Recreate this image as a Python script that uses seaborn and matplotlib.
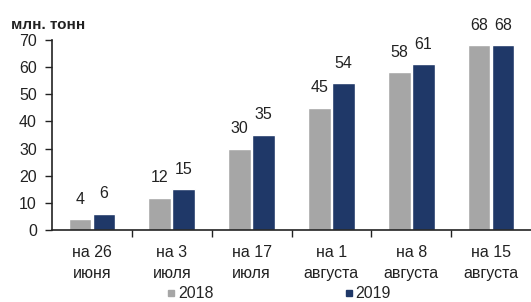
import pandas as pd
import seaborn as sns
import matplotlib.pyplot as plt
from matplotlib.lines import Line2D

# данные с графика
даты = ['на 26\nиюня', 'на 3\nиюля', 'на 17\nиюля', 'на 1\nавгуста', 'на 8\nавгуста', 'на 15\nавгуста']
урожай_2018 = [4, 12, 30, 45, 58, 68]
урожай_2019 = [6, 15, 35, 54, 61, 68]
годы = ['2018', '2019']
цвета = ['#A6A6A6', '#1F3868']

dados = pd.DataFrame({
    'дата': даты * 2,
    'год': [годы[0]] * len(даты) + [годы[1]] * len(даты),
    'значение': урожай_2018 + урожай_2019,
})

sns.set_style('ticks')
plt.rcParams['font.family'] = ['Liberation Sans', 'DejaVu Sans']

fig = plt.figure(figsize=(5.31, 3.02), dpi=100)
ax = fig.add_axes([0.098, 0.238, 0.902, 0.63])

sns.barplot(data=dados, x='дата', y='значение', hue='год', palette=цвета,
            width=0.6, gap=0.05, ax=ax, legend=False, saturation=1)

for cont in ax.containers:
    ax.bar_label(cont, fmt='%d', padding=9, fontsize=11.5, color='#222222')

ax.set_ylim(0, 70)
ax.set_yticks(range(0, 71, 10))
ax.set_xlim(-0.5, len(даты) - 0.5)
ax.set_xlabel('')
ax.set_ylabel('')
ax.tick_params(axis='y', labelsize=11.5, length=5, width=1, pad=6, colors='#222222')
ax.tick_params(axis='x', which='major', length=0, labelsize=11.5, pad=11, colors='#222222')
for lbl in ax.get_xticklabels():
    lbl.set_linespacing(1.5)
# засечки между категориями
ax.set_xticks([i + 0.5 for i in range(len(даты) - 1)], minor=True)
ax.tick_params(axis='x', which='minor', length=5, width=1, color='#222222')
for s in ['top', 'right']:
    ax.spines[s].set_visible(False)
for s in ['left', 'bottom']:
    ax.spines[s].set_color('#222222')
    ax.spines[s].set_linewidth(1.2)

fig.text(0.02, 0.905, 'млн. тонн', fontsize=11, fontweight='bold', color='#222222')

handles = [Line2D([], [], marker='s', linestyle='', color=c, markersize=4) for c in цвета]
fig.legend(handles, годы, loc='lower center', bbox_to_anchor=(0.525, -0.045), ncol=2,
           frameon=False, fontsize=11.5, handletextpad=0.1, columnspacing=8.2, handlelength=0.6)

fig.savefig('out.png', dpi=100)
